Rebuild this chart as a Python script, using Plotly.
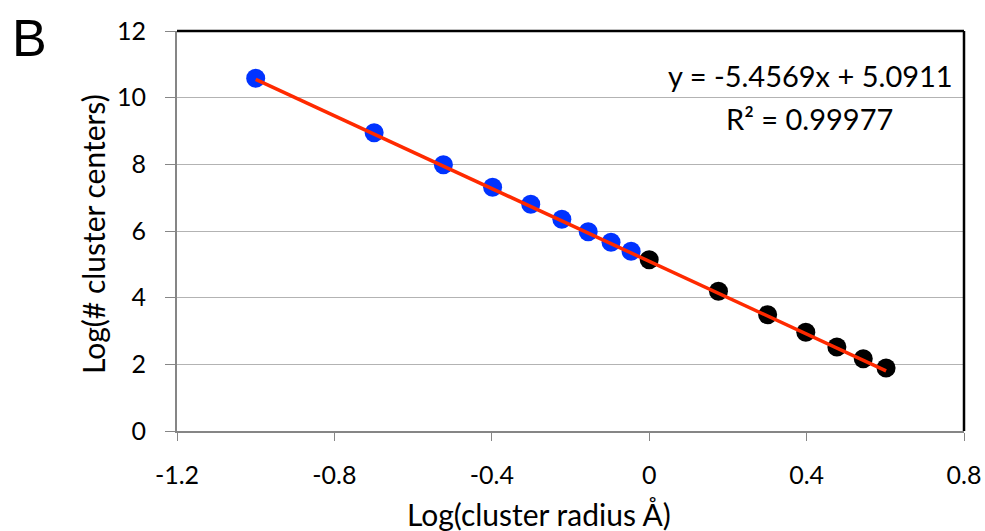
import plotly.graph_objects as go

# Data
x_blue = [-1.0, -0.699, -0.523, -0.398, -0.301, -0.222, -0.155, -0.097, -0.046]
y_blue = [10.58, 8.95, 7.99, 7.31, 6.80, 6.35, 5.98, 5.66, 5.39]
x_black = [0.0, 0.176, 0.301, 0.398, 0.477, 0.544, 0.602]
y_black = [5.14, 4.19, 3.49, 2.96, 2.52, 2.17, 1.89]
slope = -5.4569
intercept = 5.0911
r2 = 0.99977

x_ticks = [-1.2, -0.8, -0.4, 0, 0.4, 0.8]
x_tick_labels = ["-1.2", "-0.8", "-0.4", "0", "0.4", "0.8"]
y_ticks = [0, 2, 4, 6, 8, 10, 12]

FONT = "Lato"
W, H = 985, 531
L, R, T, B = 177, 21, 31, 100
PW, PH = W - L - R, H - T - B

def px(x):
    return (x - L) / PW

def py(y):
    return (H - B - y) / PH

fit_x = [x_blue[0], x_black[-1]]
fit_y = [slope * v + intercept for v in fit_x]

fig = go.Figure()
fig.add_trace(go.Scatter(x=x_blue, y=y_blue, mode="markers",
                         marker=dict(color="#0033ff", size=19, line=dict(width=0)),
                         showlegend=False, cliponaxis=False))
fig.add_trace(go.Scatter(x=x_black, y=y_black, mode="markers",
                         marker=dict(color="#000000", size=19, line=dict(width=0)),
                         showlegend=False, cliponaxis=False))
fig.add_trace(go.Scatter(x=fit_x, y=fit_y, mode="lines",
                         line=dict(color="#ff2a00", width=3.5),
                         showlegend=False))

fig.update_layout(
    width=W, height=H,
    margin=dict(l=L, r=R, t=T, b=B),
    plot_bgcolor="white", paper_bgcolor="white",
    font=dict(family=FONT, size=25, color="black"),
    xaxis=dict(range=[-1.2, 0.8], tickvals=x_ticks, ticktext=x_tick_labels,
               showgrid=False, zeroline=False, automargin=False,
               showline=True, linecolor="#868686", linewidth=2,
               ticks="outside", ticklen=8, tickcolor="#868686", tickwidth=1,
               tickfont=dict(family=FONT, size=25), ticklabelstandoff=13),
    yaxis=dict(range=[0, 12], tickvals=y_ticks, automargin=False,
               showgrid=True, gridcolor="#b3b3b3", gridwidth=1, zeroline=False,
               showline=True, linecolor="#868686", linewidth=2,
               ticks="outside", ticklen=10, tickcolor="#868686", tickwidth=1,
               tickfont=dict(family=FONT, size=25), ticklabelstandoff=14),
    shapes=[
        dict(type="line", xref="paper", yref="paper", x0=0, x1=1, y0=1, y1=1,
             line=dict(color="black", width=2.5)),
        dict(type="line", xref="paper", yref="paper", x0=1, x1=1, y0=0, y1=1,
             line=dict(color="black", width=2.5)),
    ],
    annotations=[
        dict(text="Log(cluster radius Å)", xref="paper", yref="paper",
             x=px(539), y=py(514), xanchor="center", yanchor="middle",
             showarrow=False, font=dict(family=FONT, size=30)),
        dict(text="Log(# cluster centers)", xref="paper", yref="paper",
             x=px(93), y=py(234), xanchor="center", yanchor="middle", textangle=-90,
             showarrow=False, font=dict(family=FONT, size=30)),
        dict(text=f"y = {slope}x + {intercept}", xref="paper", yref="paper",
             x=px(955), y=py(75), xanchor="right", yanchor="middle",
             showarrow=False, font=dict(family=FONT, size=29)),
        dict(text=f"R² = {r2}", xref="paper", yref="paper",
             x=px(895), y=py(118), xanchor="right", yanchor="middle",
             showarrow=False, font=dict(family=FONT, size=29)),
        dict(text="B", xref="paper", yref="paper",
             x=px(10), y=py(38), xanchor="left", yanchor="middle",
             showarrow=False, font=dict(family="Liberation Sans", size=52)),
    ],
)

fig.write_html("out.html", config={"displayModeBar": False},
               post_script="document.body.style.margin='0';document.body.style.overflow='hidden';")
